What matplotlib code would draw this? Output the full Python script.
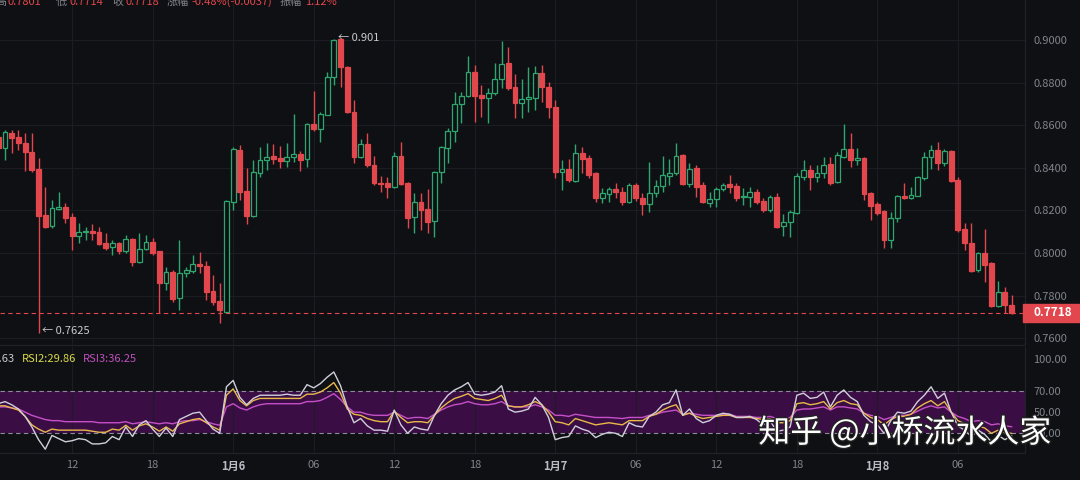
import numpy as np
import pandas as pd
import matplotlib
matplotlib.use("Agg")
import matplotlib.pyplot as plt
import matplotlib.patheffects as pe
from matplotlib.patches import Rectangle

plt.rcParams['font.family'] = ['Noto Sans CJK SC', 'DejaVu Sans']

BG = '#0f1013'
UP = '#2ea66f'
DOWN = '#e2474d'
GRID = '#1c1d22'
TXT = '#80838b'

# 30-minute candles, first one (partly hidden) at 06:30 on Jan 5
start = pd.Timestamp('2025-01-05 06:30')

opens = [0.8544, 0.8492, 0.8563, 0.8544, 0.8516, 0.8474, 0.8394, 0.8179, 0.8127, 0.8207,
         0.8216, 0.8169, 0.8080, 0.8099, 0.8103, 0.8099, 0.8047, 0.8028, 0.8047, 0.8010,
         0.8066, 0.7958, 0.8019, 0.8052, 0.8010, 0.7859, 0.7911, 0.7789, 0.7906, 0.7916,
         0.7949, 0.7939, 0.7822, 0.7775, 0.7723, 0.8240, 0.8484, 0.8291, 0.8174, 0.8376,
         0.8437, 0.8456, 0.8446, 0.8432, 0.8451, 0.8465, 0.8442, 0.8606, 0.8582, 0.8648,
         0.8826, 0.9005, 0.8873, 0.8662, 0.8451, 0.8512, 0.8413, 0.8329, 0.8329, 0.8310,
         0.8456, 0.8329, 0.8169, 0.8240, 0.8207, 0.8150, 0.8381, 0.8493, 0.8573, 0.8700,
         0.8737, 0.8850, 0.8742, 0.8728, 0.8751, 0.8817, 0.8892, 0.8780, 0.8704, 0.8723,
         0.8728, 0.8845, 0.8780, 0.8686, 0.8381, 0.8394, 0.8338, 0.8470, 0.8446, 0.8376,
         0.8258, 0.8277, 0.8301, 0.8287, 0.8240, 0.8320, 0.8258, 0.8230, 0.8282, 0.8315,
         0.8362, 0.8376, 0.8460, 0.8324, 0.8399, 0.8320, 0.8235, 0.8254, 0.8301, 0.8324,
         0.8315, 0.8263, 0.8263, 0.8287, 0.8244, 0.8202, 0.8263, 0.8127, 0.8146, 0.8188,
         0.8357, 0.8390, 0.8357, 0.8376, 0.8418, 0.8334, 0.8451, 0.8488, 0.8437, 0.8446,
         0.8282, 0.8230, 0.8197, 0.8061, 0.8165, 0.8268, 0.8258, 0.8268, 0.8352, 0.8451,
         0.8484, 0.8423, 0.8479, 0.8343, 0.8113, 0.8047, 0.7920, 0.8000, 0.7953, 0.7752,
         0.7817, 0.7756]
highs = [0.8568, 0.8577, 0.8577, 0.8577, 0.8563, 0.8563, 0.8446, 0.8310, 0.8249, 0.8287,
         0.8235, 0.8188, 0.8141, 0.8122, 0.8136, 0.8122, 0.8094, 0.8061, 0.8052, 0.8085,
         0.8071, 0.8094, 0.8085, 0.8071, 0.8010, 0.7935, 0.7920, 0.8061, 0.7935, 0.7991,
         0.8005, 0.7963, 0.7897, 0.7859, 0.8249, 0.8498, 0.8507, 0.8399, 0.8437, 0.8498,
         0.8516, 0.8512, 0.8502, 0.8516, 0.8653, 0.8479, 0.8611, 0.8761, 0.8662, 0.8850,
         0.9005, 0.9010, 0.8878, 0.8718, 0.8535, 0.8563, 0.8456, 0.8362, 0.8357, 0.8474,
         0.8521, 0.8334, 0.8282, 0.8282, 0.8301, 0.8385, 0.8502, 0.8587, 0.8756, 0.8756,
         0.8925, 0.8883, 0.8789, 0.8775, 0.8892, 0.8995, 0.8967, 0.8840, 0.8817, 0.8873,
         0.8878, 0.8883, 0.8803, 0.8718, 0.8437, 0.8442, 0.8512, 0.8498, 0.8460, 0.8381,
         0.8305, 0.8310, 0.8329, 0.8310, 0.8329, 0.8329, 0.8282, 0.8428, 0.8343, 0.8456,
         0.8442, 0.8516, 0.8465, 0.8423, 0.8413, 0.8334, 0.8287, 0.8310, 0.8329, 0.8366,
         0.8329, 0.8305, 0.8310, 0.8301, 0.8258, 0.8273, 0.8282, 0.8183, 0.8202, 0.8376,
         0.8437, 0.8413, 0.8413, 0.8451, 0.8451, 0.8474, 0.8606, 0.8563, 0.8493, 0.8451,
         0.8287, 0.8240, 0.8202, 0.8193, 0.8273, 0.8329, 0.8310, 0.8362, 0.8474, 0.8507,
         0.8521, 0.8488, 0.8484, 0.8357, 0.8141, 0.8141, 0.8005, 0.8113, 0.7958, 0.7869,
         0.7840, 0.7801]
lows = [0.8484, 0.8437, 0.8470, 0.8484, 0.8385, 0.8381, 0.7625, 0.8118, 0.8118, 0.8202,
        0.8141, 0.8014, 0.8047, 0.8061, 0.8061, 0.8038, 0.8014, 0.7991, 0.7995, 0.8000,
        0.7939, 0.7953, 0.8014, 0.7991, 0.7718, 0.7826, 0.7770, 0.7733, 0.7887, 0.7906,
        0.7906, 0.7779, 0.7756, 0.7672, 0.7718, 0.8202, 0.8249, 0.8136, 0.8169, 0.8357,
        0.8390, 0.8418, 0.8399, 0.8404, 0.8428, 0.8385, 0.8404, 0.8573, 0.8521, 0.8648,
        0.8789, 0.8780, 0.8657, 0.8423, 0.8446, 0.8404, 0.8320, 0.8287, 0.8258, 0.8305,
        0.8320, 0.8118, 0.8094, 0.8108, 0.8094, 0.8075, 0.8329, 0.8423, 0.8521, 0.8611,
        0.8733, 0.8615, 0.8639, 0.8611, 0.8742, 0.8775, 0.8765, 0.8634, 0.8634, 0.8662,
        0.8671, 0.8709, 0.8634, 0.8352, 0.8296, 0.8334, 0.8334, 0.8376, 0.8352, 0.8240,
        0.8235, 0.8240, 0.8258, 0.8226, 0.8235, 0.8244, 0.8179, 0.8193, 0.8263, 0.8287,
        0.8320, 0.8366, 0.8320, 0.8310, 0.8263, 0.8235, 0.8216, 0.8216, 0.8291, 0.8282,
        0.8244, 0.8226, 0.8216, 0.8230, 0.8193, 0.8193, 0.8118, 0.8080, 0.8075, 0.8183,
        0.8343, 0.8296, 0.8334, 0.8352, 0.8320, 0.8329, 0.8446, 0.8404, 0.8413, 0.8249,
        0.8155, 0.8179, 0.8024, 0.8024, 0.8146, 0.8254, 0.8254, 0.8268, 0.8343, 0.8394,
        0.8390, 0.8409, 0.8334, 0.8099, 0.8014, 0.7911, 0.7911, 0.7864, 0.7747, 0.7747,
        0.7718, 0.7714]
closes = [0.8492, 0.8568, 0.8540, 0.8516, 0.8474, 0.8390, 0.8174, 0.8122, 0.8212, 0.8216,
          0.8165, 0.8080, 0.8099, 0.8103, 0.8094, 0.8042, 0.8024, 0.8047, 0.8010, 0.8066,
          0.7958, 0.8019, 0.8052, 0.8000, 0.7859, 0.7911, 0.7784, 0.7906, 0.7920, 0.7949,
          0.7939, 0.7817, 0.7770, 0.7733, 0.8244, 0.8488, 0.8287, 0.8174, 0.8381, 0.8437,
          0.8451, 0.8442, 0.8432, 0.8451, 0.8465, 0.8437, 0.8606, 0.8582, 0.8653, 0.8826,
          0.9000, 0.8873, 0.8662, 0.8451, 0.8512, 0.8413, 0.8329, 0.8324, 0.8310, 0.8456,
          0.8324, 0.8165, 0.8240, 0.8202, 0.8146, 0.8381, 0.8498, 0.8573, 0.8700, 0.8737,
          0.8850, 0.8737, 0.8728, 0.8751, 0.8817, 0.8887, 0.8775, 0.8704, 0.8723, 0.8733,
          0.8845, 0.8780, 0.8686, 0.8381, 0.8394, 0.8343, 0.8470, 0.8442, 0.8366, 0.8258,
          0.8282, 0.8301, 0.8287, 0.8240, 0.8320, 0.8258, 0.8230, 0.8282, 0.8315, 0.8366,
          0.8376, 0.8456, 0.8324, 0.8394, 0.8310, 0.8240, 0.8254, 0.8301, 0.8320, 0.8310,
          0.8258, 0.8268, 0.8287, 0.8240, 0.8202, 0.8263, 0.8122, 0.8146, 0.8193, 0.8362,
          0.8390, 0.8357, 0.8376, 0.8413, 0.8329, 0.8460, 0.8488, 0.8437, 0.8446, 0.8277,
          0.8221, 0.8188, 0.8061, 0.8165, 0.8268, 0.8258, 0.8273, 0.8357, 0.8451, 0.8484,
          0.8423, 0.8479, 0.8338, 0.8108, 0.8047, 0.7916, 0.8000, 0.7944, 0.7752, 0.7817,
          0.7755, 0.7718]

rsi1 = [58,
        60, 57, 53, 46, 36, 24, 15, 28, 25, 22,
        23, 25, 24, 20, 20, 21, 27, 24, 36, 27,
        38, 42, 34, 27, 35, 27, 43, 46, 49, 50,
        42, 34, 30, 74, 80, 64, 57, 63, 66, 66,
        66, 66, 67, 66, 66, 76, 73, 77, 83, 88,
        75, 55, 40, 44, 37, 33, 33, 32, 52, 38,
        30, 36, 34, 33, 47, 58, 66, 71, 74, 78,
        67, 66, 67, 69, 75, 53, 50, 51, 53, 64,
        57, 45, 24, 26, 27, 37, 34, 32, 26, 29,
        31, 30, 27, 40, 37, 36, 46, 50, 57, 59,
        71, 47, 53, 44, 40, 42, 47, 49, 48, 45,
        45, 46, 43, 38, 42, 32, 33, 36, 66, 68,
        63, 64, 69, 55, 66, 71, 64, 60, 47, 41,
        38, 30, 42, 50, 49, 51, 60, 66, 74, 63,
        68, 50, 37, 33, 27, 33, 29, 22, 28, 24,
        27.63]
rsi2 = [56,
        56, 54, 52, 46, 38, 34, 31, 34, 33, 33,
        33, 33, 33, 32, 31, 31, 34, 33, 37.6, 33,
        37, 39, 36, 32, 36, 32, 39, 41, 43, 44,
        40, 36, 33, 66, 72, 61, 56, 61, 63, 63,
        63, 63, 63, 63, 63, 67, 67, 69, 73, 78,
        68, 53, 48, 47, 44, 42, 41, 41, 51, 45,
        40, 41, 41, 40, 47, 54, 59, 63, 65, 67.5,
        63, 62, 61, 63, 66, 56, 55, 55, 57, 60,
        57, 50, 41, 40, 38, 44, 42, 40, 38, 39,
        40, 39, 38, 42, 42, 42, 46, 48, 52, 55,
        57, 47, 49, 46, 44, 45, 46, 47, 47, 45,
        45, 45, 44, 43, 44, 40, 40, 42, 58, 59,
        57, 58, 60, 53, 59, 61, 58, 57, 49, 45,
        43, 38, 43, 46, 46, 48, 54, 58, 61, 56,
        60, 50, 42, 39, 34, 37, 35, 30, 33, 31,
        29.86]
rsi3 = [55,
        55, 54, 53, 50, 47, 45, 43, 42, 42, 41,
        41, 41, 41, 41, 40, 40, 40, 40, 41, 39,
        40, 41, 40, 39, 40, 39, 41, 42, 42, 43,
        41, 39, 37.6, 55, 58, 54, 52, 55, 57, 58,
        58, 58, 58, 58, 58, 60, 60, 61, 64, 67.5,
        62, 55, 50, 50, 48, 47, 47, 47, 50, 47,
        44, 45, 45, 44, 48, 52, 55, 57, 58, 60,
        58, 57, 57, 58, 60, 56, 55, 55, 55, 57,
        55, 52, 47, 47, 46, 48, 47, 46, 45, 45,
        45, 44.5, 44, 45, 45, 45, 47, 48, 50, 51,
        52, 48, 49, 48, 47, 47, 47, 48, 48, 46,
        46, 46, 45, 45, 46, 44, 44, 45, 52, 53,
        53, 54, 55, 52, 55, 55, 54, 53, 49, 47,
        46, 43, 45, 47, 47, 48, 51, 54, 56, 54,
        55, 50, 46, 44, 41, 42, 41, 38, 39, 37,
        36.25]

price_ticks = [0.76, 0.78, 0.80, 0.82, 0.84, 0.86, 0.88, 0.90]
rsi_ticks = [100, 70, 50, 30]

o, h, l, c = map(np.array, (opens, highs, lows, closes))
x = np.arange(len(c)) - 1
times = start + pd.to_timedelta(np.arange(len(c)) * 30, unit='min')

fig = plt.figure(figsize=(10.8, 4.8), dpi=100, facecolor=BG)
ax1 = fig.add_axes([0, 1 - 345 / 480, 1025 / 1080, 345 / 480], facecolor=BG)
ax2 = fig.add_axes([0, 1 - 453 / 480, 1025 / 1080, 106 / 480], facecolor=BG, sharex=ax1)

# candles: hollow green, filled red
up = c >= o
col = np.where(up, UP, DOWN)
ax1.vlines(x, l, h, colors=col, linewidth=1, zorder=2)
body_lo = np.minimum(o, c)
body_h = np.maximum(np.abs(c - o), 0.0004)
ax1.bar(x, body_h, bottom=body_lo, width=0.72, color=np.where(up, BG, DOWN),
        edgecolor=col, linewidth=0.9, zorder=3)

ax1.axhline(c[-1], color=DOWN, lw=0.8, ls=(0, (4, 3)), zorder=4)

ih, il = np.argmax(h), np.argmin(l)
ax1.annotate('← ' + f'{h[ih]:.4f}'.rstrip('0'), xy=(x[ih], h[ih]), xytext=(-1.5, 0),
             textcoords='offset points', ha='left', va='center', color='#c9c9cf', fontsize=8, zorder=5)
ax1.annotate('← ' + f'{l[il]:.4f}'.rstrip('0'), xy=(x[il], l[il]), xytext=(2.5, 1),
             textcoords='offset points', ha='left', va='center', color='#c9c9cf', fontsize=8, zorder=5)

ax1.set_ylim(0.7568, 0.9188)
ax1.set_xlim(-0.745, 152.0)

# rsi panel
ax2.axhspan(30, 70, color='#3a0e44', lw=0, zorder=0)
for v in (70, 30):
    ax2.axhline(v, color='#8c8c9a', lw=0.8, ls=(0, (4, 3)), zorder=1)
ax2.plot(x, rsi3, color='#c64fc8', lw=1.0, zorder=3)
ax2.plot(x, rsi2, color='#e8b84a', lw=1.0, zorder=4)
ax2.plot(x, rsi1, color='#cfcfda', lw=1.0, zorder=5)
ax2.set_ylim(11.4, 111.6)

for ax in (ax1, ax2):
    ax.yaxis.tick_right()
    ax.tick_params(axis='both', length=0, labelsize=8, labelcolor=TXT, pad=6)
    ax.grid(True, color=GRID, lw=0.8)
    ax.set_axisbelow(True)
    for s in ('top', 'left'):
        ax.spines[s].set_visible(False)
    for s in ('bottom', 'right'):
        ax.spines[s].set_color('#222328')
ax1.tick_params(axis='x', labelbottom=False)
ax2.tick_params(axis='x', pad=5)
ax1.set_yticks(price_ticks)
ax1.set_yticklabels([f'{v:.4f}' for v in price_ticks])
ax2.set_yticks(rsi_ticks)
ax2.set_yticklabels([f'{v:.2f}' for v in rsi_ticks])
ax2.grid(False, axis='y')

# time ticks every 6 hours
tk = [(xi, t) for xi, t in zip(x, times) if t.minute == 0 and t.hour % 6 == 0]
ax2.set_xticks([xi for xi, _ in tk])
ax2.set_xticklabels([f'{t.month}月{t.day}' if t.hour == 0 else f'{t.hour:02d}' for _, t in tk])
for lab, (_, t) in zip(ax2.get_xticklabels(), tk):
    if t.hour == 0:
        lab.set_color('#b9bcc4')
        lab.set_fontweight('bold')
    else:
        lab.set_color(TXT)

# last price box
fig.patches.append(Rectangle((1023 / 1080, 1 - 322 / 480), 57 / 1080, 18 / 480,
                             transform=fig.transFigure, color=DOWN, zorder=5))
fig.text(1033 / 1080, 1 - 313 / 480, f'{c[-1]:.4f}', color='white', fontsize=8.5,
         fontweight='bold', ha='left', va='center', zorder=6)

# header (cut at the top)
chg = c[-1] - c[-2]
head = [('高', 6, TXT, 'right'), (f'{h[-1]:.4f}', 8, DOWN, 'left'), ('低', 56, TXT, 'left'),
        (f'{l[-1]:.4f}', 70, DOWN, 'left'), ('收', 112, TXT, 'left'),
        (f'{c[-1]:.4f}', 125, DOWN, 'left'), ('涨幅', 167, TXT, 'left'),
        (f'{chg / c[-2] * 100:.2f}%({chg:.4f})', 191, DOWN, 'left'), ('振幅', 280, TXT, 'left'),
        (f'{(h[-1] - l[-1]) / c[-2] * 100:.2f}%', 305, DOWN, 'left')]
for s, px, cl, al in head:
    fig.text(px / 1080, 1 - 2 / 480, s, color=cl, fontsize=8, ha=al, va='center')

# rsi legend
fig.text(15 / 1080, 1 - 359 / 480, f'RSI1:{rsi1[-1]:.2f}', color='#c9c9cf', fontsize=8, ha='right', va='center')
fig.text(22 / 1080, 1 - 359 / 480, f'RSI2:{rsi2[-1]:.2f}', color='#d9d94a', fontsize=8, ha='left', va='center')
fig.text(83 / 1080, 1 - 359 / 480, f'RSI3:{rsi3[-1]:.2f}', color='#c04fc0', fontsize=8, ha='left', va='center')

fig.text(905 / 1080, 1 - 433 / 480, '知乎 @小桥流水人家', color='white', fontsize=23,
         ha='center', va='center', zorder=10,
         path_effects=[pe.withStroke(linewidth=2, foreground='#222222')])

fig.savefig('out.png', dpi=100, facecolor=BG)
